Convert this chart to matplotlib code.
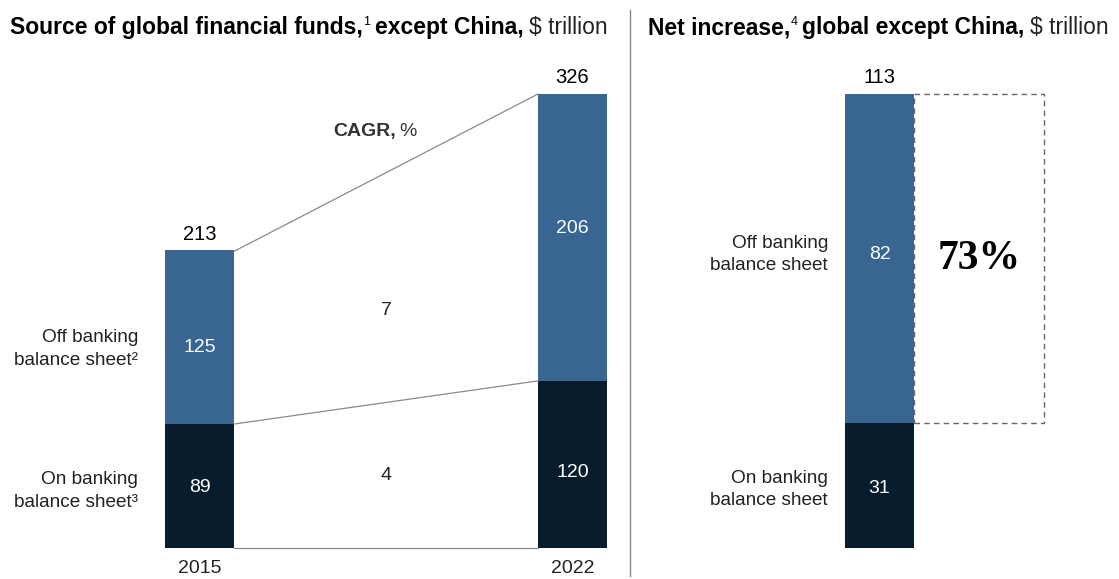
import matplotlib
matplotlib.use("Agg")
import matplotlib.pyplot as plt
from matplotlib.patches import Rectangle
from matplotlib.lines import Line2D


# =========================================================
# DATA
# =========================================================

years = ["2015", "2022"]
on_bank = [89, 120]
off_bank = [125, 206]
totals = [213, 326]
cagr_on = 4
cagr_off = 7

net_on = 31
net_off = 82
net_total = 113
net_share = "73%"


# =========================================================
# STYLE
# =========================================================

BLUE = "#386592"
NAVY = "#071d2e"
TXT = "#222222"
GREY = "#8a8a8a"
FS = 14  # body font size
LS = 1.4  # line spacing of two-line labels

plt.rcParams["font.family"] = ["Liberation Sans", "DejaVu Sans"]

W, H = 1119, 579
fig = plt.figure(figsize=(W / 100, H / 100), dpi=100)


def px_axes(x0, x1, y_top, y_bot):
    # axes placed by pixel box (measured from top-left)
    ax = fig.add_axes([x0 / W, 1 - y_bot / H, (x1 - x0) / W, (y_bot - y_top) / H])
    ax.axis("off")
    return ax


def rich_text(x, y, parts):
    # draw text pieces one after another, starting at pixel x, baseline y
    r = fig.canvas.get_renderer()
    for s, kw in parts:
        kw = dict(kw)
        gap = kw.pop("gap", 0)
        rise = kw.pop("rise", 0)
        x += gap
        t = fig.text(x / W, 1 - (y - rise) / H, s, va="baseline", ha="left", **kw)
        x += t.get_window_extent(renderer=r).width
    return x


def inner_label(ax, x, y, s, dy=0):
    ax.annotate(s, (x, y), xytext=(0, dy), textcoords="offset pixels", color="white",
                ha="center", va="center", fontsize=FS)


def side_label(ax, x, y, s, dx, dy):
    ax.annotate(s, (x, y), xytext=(dx, dy), textcoords="offset pixels", ha="right",
                va="center", fontsize=FS - 0.3, color=TXT, linespacing=LS)


# =========================================================
# LEFT PANEL: SOURCE OF FUNDS
# =========================================================

w = 69 / 373
ax1 = px_axes(165, 607, 94, 548)
ax1.set_xlim(-w / 2, 1 + w / 2)
ax1.set_ylim(0, max(totals))

xs = [0, 1]
ax1.bar(xs, on_bank, w, color=NAVY, zorder=2)
ax1.bar(xs, off_bank, w, bottom=on_bank, color=BLUE, zorder=2)

# connector lines between the two bars
for y0, y1 in [(totals[0], totals[1]), (on_bank[0], on_bank[1]), (0, 0)]:
    ax1.plot([w / 2, 1 - w / 2], [y0, y1], color=GREY, lw=0.9, clip_on=False)

on_dy = [-1, -8]
off_dy = [-10, 9]
for i in range(2):
    inner_label(ax1, xs[i], on_bank[i] / 2, str(on_bank[i]), on_dy[i])
    inner_label(ax1, xs[i], on_bank[i] + off_bank[i] / 2, str(off_bank[i]), off_dy[i])
    ax1.annotate(str(totals[i]), (xs[i], totals[i]), xytext=(0, 7),
                 textcoords="offset pixels", ha="center", va="bottom",
                 fontsize=FS + 0.5, color="black")
    ax1.annotate(years[i], (xs[i], 0), xytext=(0, -12), textcoords="offset pixels",
                 ha="center", va="top", fontsize=FS, color=TXT)

# CAGR values between the bars
mid_on = (on_bank[0] + on_bank[1]) / 2
mid_top = (totals[0] + totals[1]) / 2
ax1.text(0.5, mid_on / 2, str(cagr_on), ha="center", va="center",
         fontsize=FS, color=TXT)
ax1.text(0.5, mid_on + 0.4 * (mid_top - mid_on), str(cagr_off), ha="center",
         va="center", fontsize=FS, color=TXT)

# row labels left of the 2015 bar
side_label(ax1, -w / 2, on_bank[0] + off_bank[0] / 2,
           "Off banking\nbalance sheet\u00b2", -27, -12)
side_label(ax1, -w / 2, on_bank[0] / 2, "On banking\nbalance sheet\u00b3", -27, -5)


# =========================================================
# RIGHT PANEL: NET INCREASE
# =========================================================

ax2 = px_axes(845, 914, 94, 548)
ax2.set_xlim(-0.5, 0.5)
ax2.set_ylim(0, net_total)
ax2.bar([0], [net_on], 1, color=NAVY)
ax2.bar([0], [net_off], 1, bottom=[net_on], color=BLUE)

inner_label(ax2, 0, net_on / 2, str(net_on), -3)
inner_label(ax2, 0, net_on + net_off / 2, str(net_off), 4)
ax2.annotate(str(net_total), (0, net_total), xytext=(0, 7), textcoords="offset pixels",
             ha="center", va="bottom", fontsize=FS + 0.5, color="black")

box_w = 130 / 69
ax2.add_patch(Rectangle((0.5, net_on), box_w, net_off, fill=False, ls=(0, (4, 3)),
                        edgecolor="#666666", lw=1, clip_on=False))
ax2.text(0.5 + box_w / 2, net_on + net_off / 2, net_share, ha="center", va="center",
         fontsize=30, fontweight="bold", family=["Liberation Serif", "DejaVu Serif"],
         color="black")

side_label(ax2, -0.5, net_on + net_off / 2, "Off banking\nbalance sheet", -17, 4)
side_label(ax2, -0.5, net_on / 2, "On banking\nbalance sheet", -17, -4)


# =========================================================
# TITLES, CAGR HEADER AND SEPARATOR
# =========================================================

bold = dict(fontsize=16.5, fontweight="bold", color="black")
reg = dict(fontsize=16.5, color=TXT)
sup = dict(fontsize=9, color="black", rise=9)

rich_text(10, 34, [("Source of global financial funds,", bold),
                   ("1", sup),
                   ("except China,", dict(bold, gap=5)),
                   ("$ trillion", dict(reg, gap=5))])
rich_text(648, 34, [("Net increase,", bold),
                    ("4", sup),
                    ("global except China,", dict(bold, gap=5)),
                    ("$ trillion", dict(reg, gap=5))])

rich_text(333, 136, [("CAGR,", dict(fontsize=FS, fontweight="bold", color="#333333")),
                     ("%", dict(fontsize=FS, color="#333333", gap=4))])

fig.add_artist(Line2D([630 / W, 630 / W], [1 - 10 / H, 1 - 576 / H],
                      color=GREY, lw=1))

fig.savefig("out.png", dpi=100)
